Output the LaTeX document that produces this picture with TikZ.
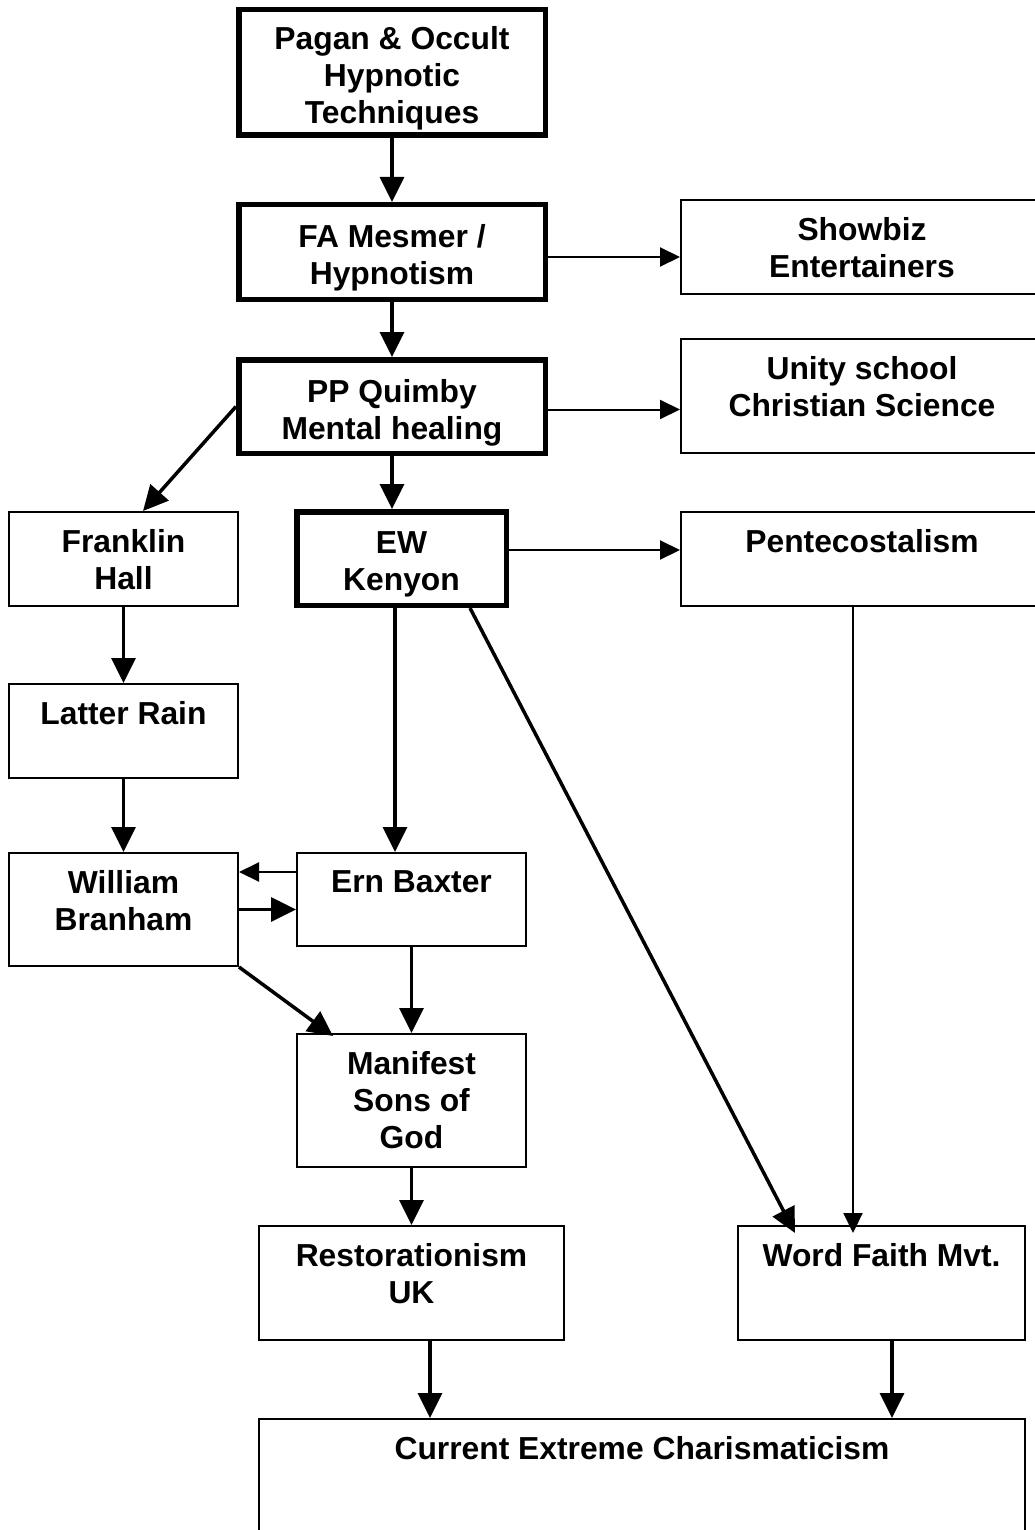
\documentclass[tikz,border=0pt]{standalone}
\usepackage{fontspec}
\setmainfont{Liberation Sans}
\usetikzlibrary{arrows.meta}

\begin{document}
\begin{tikzpicture}[
			x=1pt, y=-1pt,
			box/.style={draw, line width=2.25pt, anchor=north west, inner sep=0},
			heavy/.style={box, line width=5.5pt},
			txt/.style={anchor=north, yshift=-18.5pt, inner sep=0, align=center,
				font=\fontsize{31.8}{37}\selectfont\bfseries},
			txth/.style={txt, yshift=-3.5pt},
			arr/.style={line width=3.5pt, -{Triangle[length=25pt, width=24pt]}},
			arrs/.style={line width=2pt, -{Triangle[length=20pt, width=19pt]}},
		]
		\useasboundingbox (0,0) rectangle (1034,1530);
		\node[heavy, minimum width=306.5, minimum height=125.5,
			label={[txth, yshift=3pt]north:{Pagan \& Occult\\Hypnotic\\Techniques}}] (pagan) at (236,7) {};
		\node[heavy, minimum width=306.5, minimum height=94.5,
			label={[txth]north:{FA Mesmer /\\Hypnotism}}] (mesmer) at (236,202) {};
		\node[heavy, minimum width=306.5, minimum height=93.5,
			label={[txth]north:{PP Quimby\\Mental healing}}] (quimby) at (236,357) {};
		\node[heavy, minimum width=209.5, minimum height=93.5,
			label={[txth]north:{EW\\Kenyon}}] (kenyon) at (294,509) {};
		\node[box, minimum width=361.75, minimum height=93.75,
			label={[txt]north:{Showbiz\\Entertainers}}] (showbiz) at (680,199) {};
		\node[box, minimum width=361.75, minimum height=113.75,
			label={[txt]north:{Unity school\\Christian Science}}] (unity) at (680,338) {};
		\node[box, minimum width=361.75, minimum height=93.75,
			label={[txt]north:{Pentecostalism}}] (pente) at (680,511) {};
		\node[box, minimum width=228.75, minimum height=93.75,
			label={[txt]north:{Franklin\\Hall}}] (hall) at (8,511) {};
		\node[box, minimum width=228.75, minimum height=93.75,
			label={[txt]north:{Latter Rain}}] (rain) at (8,683) {};
		\node[box, minimum width=228.75, minimum height=112.75,
			label={[txt]north:{William\\Branham}}] (branham) at (8,852) {};
		\node[box, minimum width=228.75, minimum height=92.75,
			label={[txt]north:{Ern Baxter}}] (baxter) at (296,852) {};
		\node[box, minimum width=228.75, minimum height=132.75,
			label={[txt]north:{Manifest\\Sons of\\God}}] (sons) at (296,1033) {};
		\node[box, minimum width=304.75, minimum height=113.75,
			label={[txt]north:{Restorationism\\UK}}] (resto) at (258,1225) {};
		\node[box, minimum width=286.75, minimum height=113.75,
			label={[txt]north:{Word Faith Mvt.}}] (faith) at (737,1225) {};
		\node[box, minimum width=765.75, minimum height=140,
			label={[txt]north:{Current Extreme Charismaticism}}] (current) at (258,1418) {};

		\draw[arr] (pagan) -- (mesmer);
		\draw[arrs] ([yshift=-5]mesmer.east) -- ([yshift=-5]mesmer.east -| showbiz.west);
		\draw[arr] (mesmer) -- (quimby);
		\draw[arrs] ([yshift=-3]quimby.east) -- ([yshift=-3]quimby.east -| unity.west);
		\draw[arr] (quimby.west) -- ([xshift=19.5]hall.north);
		\draw[arr] (quimby) -- (quimby |- kenyon.north);
		\draw[arrs] ([yshift=8.5]kenyon.east) -- ([yshift=8.5]kenyon.east -| pente.west);
		\draw[arr] (hall) -- (rain);
		\draw[arr] (rain) -- (branham);
		\draw[arr] ([xshift=-6.5]kenyon.south) -- ([xshift=-6.5]kenyon.south |- baxter.north);
		\draw[arrs] ([yshift=27.5]baxter.west) -- ([yshift=27.5]baxter.west -| branham.east);
		\draw[arr] (branham.east) -- (branham.east -| baxter.west);
		\draw[arr] (branham.south east) -- ([xshift=37, yshift=-3]sons.north west);
		\draw[arr] (baxter) -- (sons);
		\draw[arr] ([xshift=68.5]kenyon.south) -- ([xshift=-86.5, yshift=-8]faith.north);
		\draw[arrs] ([xshift=-28.5]faith.north |- pente.south) -- ([xshift=-28.5, yshift=-8]faith.north);
		\draw[arr] (sons) -- (resto);
		\draw[arr] ([xshift=18.5]resto.south) -- ([xshift=18.5]resto.south |- current.north);
		\draw[arr] ([xshift=10.5]faith.south) -- ([xshift=10.5]faith.south |- current.north);
		\end{tikzpicture}
\end{document}
